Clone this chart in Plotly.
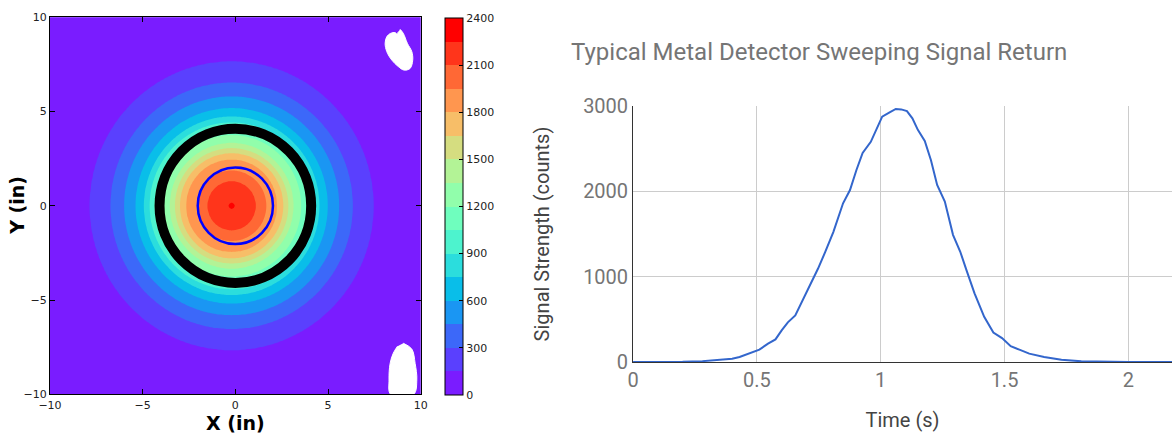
import numpy as np
import plotly.graph_objects as go

# ---------------- Left panel data (read from the contour map) ----------------
# radial signal profile around the peak: distance from peak (in) -> counts
profile_radius_in = [0.0, 0.15, 1.31, 1.87, 2.46, 2.79, 3.06, 3.33, 3.75, 4.18,
                     4.42, 4.73, 5.18, 5.80, 6.53, 7.65, 9.0, 15.0]
profile_counts = [2290, 2250, 2100, 1950, 1800, 1650, 1500, 1350, 1200, 1050,
                  900, 750, 600, 450, 300, 150, 60, 10]
peak_center_in = [-0.2, 0.0]

level_start, level_end, level_step = 0, 2400, 150
colorbar_ticks = [0, 300, 600, 900, 1200, 1500, 1800, 2100, 2400]
axis_ticks = [-10, -5, 0, 5, 10]

# matplotlib "rainbow" band colours, lowest band first
band_colors = ["#7a1cff", "#5a40fe", "#3c68f9", "#1a96f3", "#09bee9", "#2bdddd",
               "#4df3ce", "#6ffebe", "#91feab", "#b3f396", "#d5dd80", "#f7be68",
               "#ff964f", "#ff6835", "#ff351b", "#ff0000"]

coil_ring_radius_in = 4.09
target_ring_radius_in = 2.03

# white (no-data) blobs
blob_top_x = [8.89, 9.06, 9.28, 9.52, 9.57, 9.43, 9.10, 8.80, 8.44, 8.17, 8.08, 8.17, 8.38, 8.62, 8.72, 8.80]
blob_top_y = [9.36, 9.15, 8.62, 8.18, 7.73, 7.29, 7.20, 7.38, 7.73, 8.18, 8.62, 8.97, 9.15, 9.19, 9.12, 9.24]
blob_bot_x = [9.06, 9.52, 9.70, 9.79, 9.62, 8.38, 8.29, 8.35, 8.52, 8.75]
blob_bot_y = [-7.29, -7.60, -8.36, -9.24, -10.0, -10.0, -9.24, -8.36, -7.82, -7.45]

# ---------------- Right panel data (sweep signal) ----------------
time_s = [0.00, 0.10, 0.20, 0.28, 0.35, 0.40, 0.43, 0.47, 0.51, 0.545, 0.575, 0.60,
          0.625, 0.655, 0.685, 0.717, 0.747, 0.776, 0.809, 0.848, 0.876, 0.902,
          0.927, 0.960, 0.985, 1.006, 1.036, 1.061, 1.083, 1.106, 1.128, 1.150,
          1.178, 1.203, 1.228, 1.259, 1.292, 1.321, 1.346, 1.379, 1.418, 1.455,
          1.49, 1.525, 1.56, 1.60, 1.66, 1.73, 1.81, 1.90, 2.00, 2.20, 2.40]
signal_counts = [0, 0, 3, 10, 22, 38, 58, 105, 145, 215, 265, 370,
                 465, 545, 725, 900, 1095, 1290, 1525, 1860, 2015, 2250,
                 2450, 2580, 2735, 2875, 2925, 2965, 2960, 2940, 2855, 2720,
                 2590, 2365, 2075, 1880, 1490, 1295, 1080, 805, 530, 345,
                 280, 185, 145, 98, 58, 27, 8, 2, 0, 0, 0]
x_ticks_right = [0, 0.5, 1, 1.5, 2]
y_ticks_right = [0, 1000, 2000, 3000]

# ---------------- build ----------------
W, H = 1172, 438
gx = np.round(np.arange(-10, 10.0001, 0.1), 3)
gy = np.round(np.arange(-10, 10.0001, 0.1), 3)
GX, GY = np.meshgrid(gx, gy)
R = np.hypot(GX - peak_center_in[0], GY - peak_center_in[1])
Z = np.interp(R, profile_radius_in, profile_counts)

nb = len(band_colors)
n_lev = int((level_end - level_start) / level_step) + 1  # 17
contour_cs = [[0.0, band_colors[0]]]
for k, c in enumerate(band_colors):
    contour_cs.append([(k + 1) / n_lev, c])
contour_cs.append([1.0, band_colors[-1]])

stepped_cs = []
for k, c in enumerate(band_colors):
    stepped_cs.append([k / nb, c])
    stepped_cs.append([(k + 1) / nb, c])

fig = go.Figure()
fig.add_trace(go.Contour(
    x=gx, y=gy, z=Z, xaxis="x", yaxis="y",
    autocontour=False,
    contours=dict(start=level_start, end=level_end, size=level_step, coloring="fill"),
    colorscale=contour_cs, line=dict(width=0), showscale=False, hoverinfo="skip"))

for bx, by in [(blob_top_x, blob_top_y), (blob_bot_x, blob_bot_y)]:
    fig.add_trace(go.Scatter(x=bx, y=by, xaxis="x", yaxis="y", mode="lines",
                             fill="toself", fillcolor="white",
                             line=dict(color="white", width=1, shape="spline"),
                             hoverinfo="skip", showlegend=False))

# colorbar carrier
fig.add_trace(go.Scatter(
    x=[0], y=[0], xaxis="x", yaxis="y", mode="markers", hoverinfo="skip",
    marker=dict(size=1, opacity=0, color=[0], cmin=level_start, cmax=level_end,
                colorscale=stepped_cs, showscale=True,
                colorbar=dict(x=444.7 / W, xanchor="left", y=(H - 395) / H, yanchor="bottom",
                              len=376.7 / H, lenmode="fraction", thickness=18,
                              thicknessmode="pixels", xpad=0, ypad=0,
                              outlinecolor="black", outlinewidth=1,
                              tickvals=colorbar_ticks, ticks="inside", ticklen=4,
                              tickcolor="black",
                              tickfont=dict(family="DejaVu Sans", size=11, color="#222"))),
    showlegend=False))

fig.add_trace(go.Scatter(x=time_s, y=signal_counts, xaxis="x2", yaxis="y2", mode="lines",
                         line=dict(color="#3366CC", width=2), showlegend=False,
                         hoverinfo="skip"))

shapes = []
for rad, col, wid in [(coil_ring_radius_in, "black", 10), (target_ring_radius_in, "#0000ff", 2.5)]:
    shapes.append(dict(type="circle", xref="x", yref="y", x0=-rad, x1=rad, y0=-rad, y1=rad,
                       line=dict(color=col, width=wid), layer="above"))

left_font = dict(family="DejaVu Sans", size=11, color="#222")
common_left = dict(range=[-10, 10], tickvals=axis_ticks, ticks="inside", ticklen=5,
                   tickcolor="black", showline=True, linecolor="black", linewidth=1,
                   mirror="ticks", showgrid=False, zeroline=False, tickfont=left_font,
                   automargin=False)

bold_title = dict(family="DejaVu Sans", size=19, color="black", weight="bold")

fig.update_layout(
    width=W, height=H, margin=dict(l=0, r=0, t=0, b=0, autoexpand=False),
    paper_bgcolor="white", plot_bgcolor="white", showlegend=False,
    xaxis=dict(domain=[50 / W, 420.7 / W], anchor="y", **common_left),
    yaxis=dict(domain=[(H - 394.3) / H, (H - 17.3) / H], anchor="x", **common_left),
    xaxis2=dict(domain=[633.1 / W, 1.0], anchor="y2", range=[0, (W - 633.1) / 247.6],
                tickvals=x_ticks_right, ticktext=["0", "0.5", "1", "1.5", "2"],
                showgrid=True, gridcolor="#cccccc", gridwidth=1, zeroline=False,
                showline=True, linecolor="#333333", linewidth=1, ticks="",
                automargin=False,
                tickfont=dict(family="Roboto", size=20, color="#757575"),
                title=dict(text="Time (s)", standoff=21,
                           font=dict(family="Roboto", size=20, color="#444444"))),
    yaxis2=dict(domain=[(H - 362) / H, (H - 106) / H], anchor="x2", range=[0, 3000],
                tickvals=y_ticks_right, showgrid=True, gridcolor="#cccccc", gridwidth=1,
                zeroline=False, showline=True, linecolor="#333333", linewidth=1, ticks="",
                automargin=False,
                tickfont=dict(family="Roboto", size=20, color="#757575"),
                title=dict(text="Signal Strength (counts)", standoff=28,
                           font=dict(family="Roboto", size=20, color="#444444"))),
    shapes=shapes,
    annotations=[
        dict(text="Typical Metal Detector Sweeping Signal Return",
             xref="paper", yref="paper", x=569 / W, y=(H - 52) / H,
             xanchor="left", yanchor="middle", showarrow=False,
             font=dict(family="Roboto", size=24, color="#757575")),
        dict(text="X (in)", xref="paper", yref="paper", x=235.4 / W, y=(H - 423) / H,
             xanchor="center", yanchor="middle", showarrow=False, font=bold_title),
        dict(text="Y (in)", xref="paper", yref="paper", x=17 / W, y=(H - 205.8) / H,
             xanchor="center", yanchor="middle", showarrow=False, textangle=-90,
             font=bold_title),
    ],
)

fig.write_html("out.html", config={"displayModeBar": False},
               post_script="document.body.style.margin='0px';")
